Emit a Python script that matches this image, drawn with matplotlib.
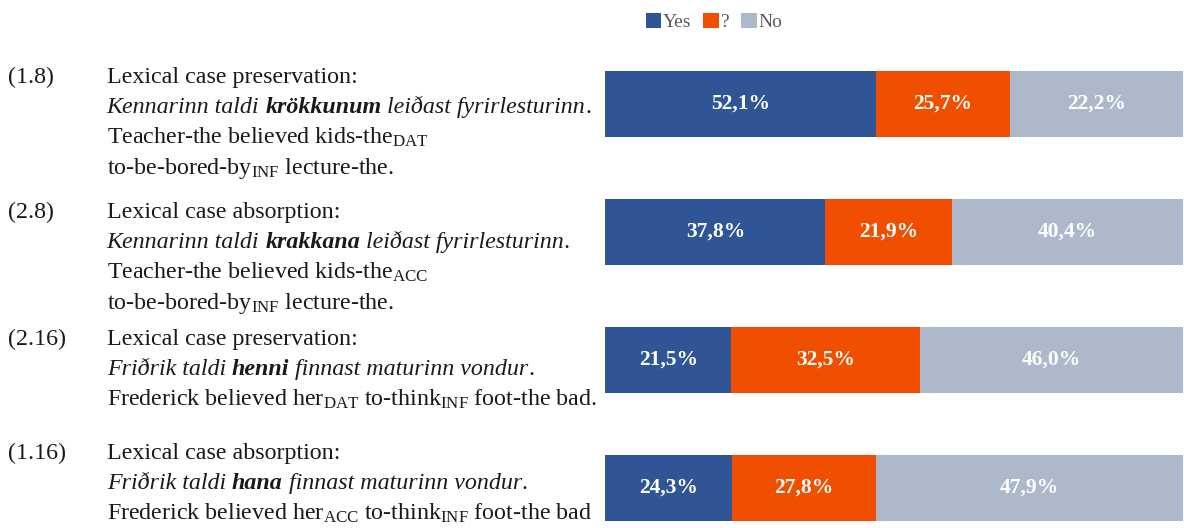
import matplotlib
matplotlib.use("Agg")
import matplotlib.pyplot as plt
from matplotlib.patches import Patch

plt.rcParams['font.family'] = ['Liberation Serif', 'DejaVu Serif']
plt.rcParams['mathtext.fontset'] = 'custom'
plt.rcParams['mathtext.rm'] = 'Liberation Serif'
plt.rcParams['mathtext.it'] = 'Liberation Serif:italic'
plt.rcParams['mathtext.bf'] = 'Liberation Serif:bold'

# Data: segment lengths as drawn (share of bar width) and the printed labels
series = ['Yes', '?', 'No']
colors = ['#2F5597', '#F04E00', '#ADB9CA']
yes_width = [46.9, 38.1, 21.8, 21.9]
unsure_width = [23.1, 21.9, 32.6, 25.0]
no_width = [30.0, 40.0, 45.6, 53.1]
yes_labels = ['52,1%', '37,8%', '21,5%', '24,3%']
unsure_labels = ['25,7%', '21,9%', '32,5%', '27,8%']
no_labels = ['22,2%', '40,4%', '46,0%', '47,9%']

example_numbers = ['(1.8)', '(2.8)', '(2.16)', '(1.16)']
example_titles = ['Lexical case preservation:', 'Lexical case absorption:',
                  'Lexical case preservation:', 'Lexical case absorption:']
# icelandic sentence: (before, bold word, after)
example_sentences = [('Kennarinn taldi', 'krökkunum', 'leiðast fyrirlesturinn'),
                     ('Kennarinn taldi', 'krakkana', 'leiðast fyrirlesturinn'),
                     ('Friðrik taldi', 'henni', 'finnast maturinn vondur'),
                     ('Friðrik taldi', 'hana', 'finnast maturinn vondur')]
example_glosses = [
    [r'Teacher-the believed kids-the$_{\mathrm{DAT}}$',
     r'to-be-bored-by$_{\mathrm{INF}}$ lecture-the.'],
    [r'Teacher-the believed kids-the$_{\mathrm{ACC}}$',
     r'to-be-bored-by$_{\mathrm{INF}}$ lecture-the.'],
    [r'Frederick believed her$_{\mathrm{DAT}}$ to-think$_{\mathrm{INF}}$ foot-the bad.'],
    [r'Frederick believed her$_{\mathrm{ACC}}$ to-think$_{\mathrm{INF}}$ foot-the bad'],
]

W, H = 1184, 528
FS = 17.3
TXT = '#1a1a1a'
fig = plt.figure(figsize=(W / 100, H / 100), dpi=100)
ax = fig.add_axes([605.3 / W, 0, 577.7 / W, 488 / H])

ypos = range(len(yes_width))
left = [0] * len(yes_width)
for widths, labels, color, name in zip([yes_width, unsure_width, no_width],
                                       [yes_labels, unsure_labels, no_labels],
                                       colors, series):
    bars = ax.barh(ypos, widths, left=left, height=0.51, color=color, label=name)
    ax.bar_label(bars, labels=labels, label_type='center', color='white',
                 fontweight='bold', fontsize=15.5)
    left = [l + w for l, w in zip(left, widths)]

ax.set_xlim(0, 100)
ax.set_ylim(3.313, -0.5)
ax.axis('off')

renderer = fig.canvas.get_renderer()


def text_width(s, **kw):
    t = fig.text(0, 0, s, fontsize=FS, **kw)
    w = t.get_window_extent(renderer).width
    t.remove()
    return w


def put_run(x, y, parts):
    # parts: list of (text, style, weight, space_after); x, y in pixels from top-left
    for s, style, weight, space in parts:
        t = fig.text(x / W, 1 - y / H, s, fontsize=FS, style=style, weight=weight,
                     va='baseline', color=TXT)
        x = t.get_window_extent(renderer).x1
        if space:
            x += text_width('a a', style=style) - text_width('aa', style=style)


# Left-hand example text (baselines in pixels from the top)
first_baselines = [83, 218, 345, 459]
line_step = 30.3
for num, title, sent, gloss, y0 in zip(example_numbers, example_titles,
                                       example_sentences, example_glosses,
                                       first_baselines):
    fig.text(8 / W, 1 - y0 / H, num, fontsize=FS, va='baseline', color=TXT)
    fig.text(106.7 / W, 1 - y0 / H, title, fontsize=FS, va='baseline', color=TXT)
    before, word, after = sent
    put_run(106.7, y0 + line_step, [(before, 'italic', 'normal', True),
                                    (word, 'italic', 'bold', True),
                                    (after, 'italic', 'normal', False),
                                    ('.', 'normal', 'normal', False)])
    for i, line in enumerate(gloss):
        fig.text(106.7 / W, 1 - (y0 + (i + 2) * line_step) / H, line, fontsize=FS,
                 va='baseline', color=TXT)

handles = [Patch(facecolor=c, label=s) for c, s in zip(colors, series)]
fig.legend(handles=handles, loc='center', bbox_to_anchor=(714 / W, 1 - 22 / H),
           ncol=3, frameon=False, fontsize=14, handlelength=0.8, handleheight=0.8,
           handletextpad=0.1, columnspacing=0.6, labelcolor='#595959')

fig.savefig('out.png', dpi=100)
